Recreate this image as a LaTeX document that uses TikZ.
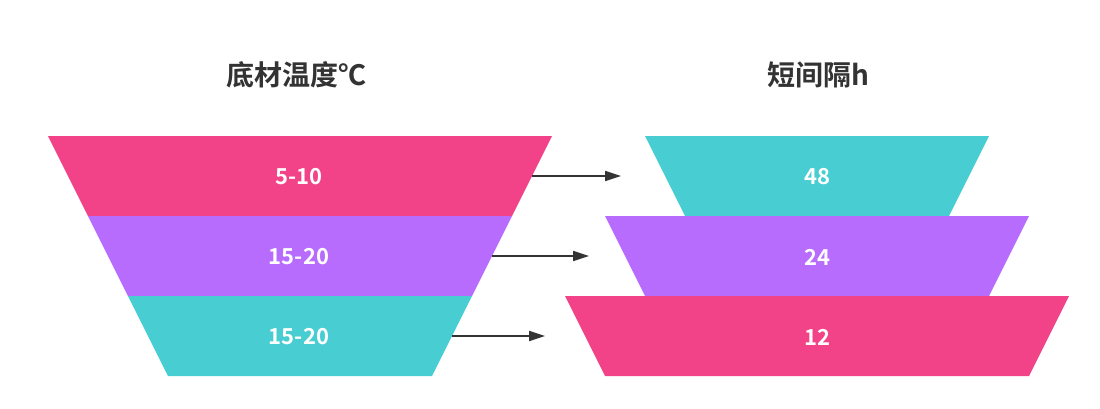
\documentclass[tikz,border=0pt]{standalone}
\usepackage{fontspec}
\setmainfont{Noto Sans CJK SC}[BoldFont={* Bold}]
\usetikzlibrary{arrows.meta}
\definecolor{cpink}{HTML}{F24388}
\definecolor{cpurple}{HTML}{B76CFE}
\definecolor{cteal}{HTML}{48CED2}
\definecolor{cdark}{HTML}{333333}
\tikzset{
  lbl/.style={text=white,font=\fontsize{22pt}{26pt}\selectfont\bfseries,inner sep=0pt},
  ttl/.style={text=cdark,font=\fontsize{28pt}{32pt}\selectfont\bfseries,inner sep=0pt},
  arr/.style={draw=cdark,line width=2pt,-{Triangle[length=16pt,width=10pt]}}
}
\begin{document}
\begin{tikzpicture}[x=1pt,y=-1pt]
\useasboundingbox (0,0) rectangle (1100,408);
% left funnel
\fill[cpink] (48,136) -- (552,136) -- (512,216) -- (88,216) -- cycle;
\fill[cpurple] (88,216) -- (512,216) -- (472,296) -- (128,296) -- cycle;
\fill[cteal] (128,296) -- (472,296) -- (432,376) -- (168,376) -- cycle;
% right stack
\fill[cteal] (645,136) -- (989,136) -- (949,216) -- (685,216) -- cycle;
\fill[cpurple] (605,216) -- (1029,216) -- (989,296) -- (645,296) -- cycle;
\fill[cpink] (565,296) -- (1069,296) -- (1029,376) -- (605,376) -- cycle;
% titles
\node[ttl] (t1) at (296,75) {底材温度℃};
\node[ttl] (t2) at (818,75) {短间隔h};
% labels
\node[lbl] (l1) at (299,177) {5-10};
\node[lbl] (l2) at (299,257) {15-20};
\node[lbl] (l3) at (299,337) {15-20};
\node[lbl] (r1) at (817,177) {48};
\node[lbl] (r2) at (817,257) {24};
\node[lbl] (r3) at (817,337) {12};
% arrows
\coordinate (a1) at (532,176);
\coordinate (b1) at (621,176);
\coordinate (a2) at (492,256);
\coordinate (b2) at (589,256);
\coordinate (a3) at (452,336);
\coordinate (b3) at (545,336);
\draw[arr] (a1) -- (b1);
\draw[arr] (a2) -- (b2);
\draw[arr] (a3) -- (b3);
\end{tikzpicture}
\end{document}
